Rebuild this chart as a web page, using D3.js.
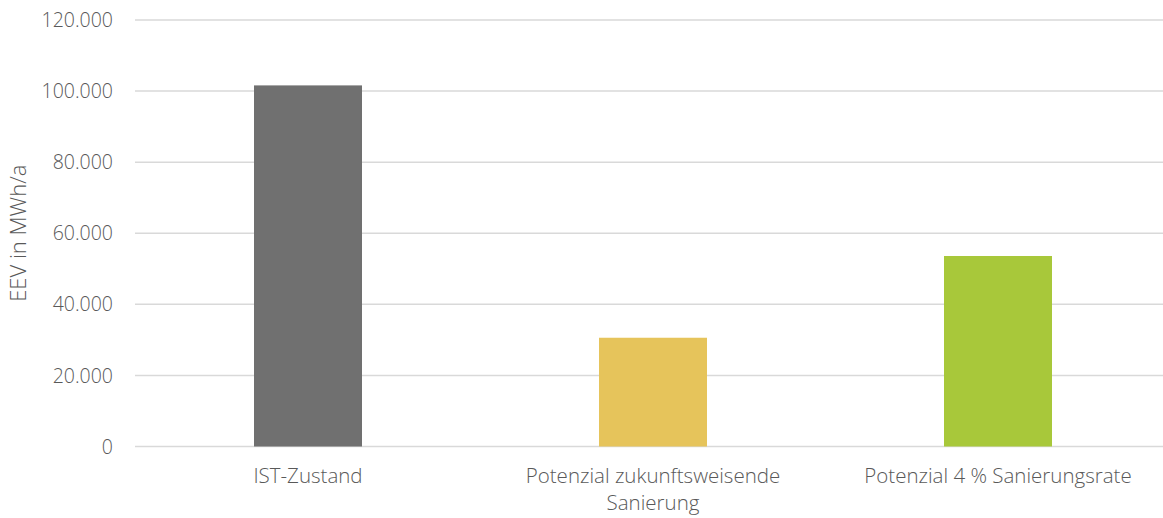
<!DOCTYPE html>
<html>
<head>
<meta charset="utf-8">
<script src="https://cdn.jsdelivr.net/npm/d3@7"></script>
<style>
  html, body { margin: 0; padding: 0; background: #fff; }
  svg text { font-family: "Open Sans", "Noto Sans", sans-serif; fill: #595959; font-weight: 300; }
</style>
</head>
<body>
<svg id="chart" width="1163" height="518"></svg>
<script>
// Final energy demand (EEV) per scenario
const categories = ["IST-Zustand", "Potenzial zukunftsweisende Sanierung", "Potenzial 4 % Sanierungsrate"];
const categoryLines = [["IST-Zustand"], ["Potenzial zukunftsweisende", "Sanierung"], ["Potenzial 4 % Sanierungsrate"]];
const values = [101600, 30600, 53600];
const barColors = ["#707070", "#E6C45B", "#A8C83A"];
const yTicks = [0, 20000, 40000, 60000, 80000, 100000, 120000];
const yTitle = "EEV in MWh/a";

const svg = d3.select("#chart");
const de = d3.formatLocale({ decimal: ",", thousands: ".", grouping: [3], currency: ["", " €"] });
const fmt = de.format(",.0f");

const x = d3.scaleBand()
  .domain(categories)
  .range([135.5, 1170.5])
  .paddingInner(0.687)
  .paddingOuter(0.3435);

const y = d3.scaleLinear()
  .domain([0, 120000])
  .range([446.5, 20]);

// horizontal gridlines
svg.append("g")
  .selectAll("line")
  .data(yTicks)
  .join("line")
  .attr("x1", 135)
  .attr("x2", 1163)
  .attr("y1", d => y(d))
  .attr("y2", d => y(d))
  .attr("stroke", "#d9d9d9")
  .attr("stroke-width", 1.5);

// y tick labels
const yAxis = d3.axisLeft(y).tickValues(yTicks).tickFormat(fmt).tickSize(0).tickPadding(0);
const gy = svg.append("g").attr("transform", "translate(113,0)").call(yAxis);
gy.select(".domain").remove();
gy.selectAll("text")
  .attr("font-size", 19.5)
  .attr("dy", "0.34em")
  .style("font-family", "'Open Sans', 'Noto Sans', sans-serif")
  .attr("fill", "#595959");

// bars
svg.append("g")
  .selectAll("rect")
  .data(values)
  .join("rect")
  .attr("x", (d, i) => x(categories[i]))
  .attr("width", x.bandwidth())
  .attr("y", d => y(d))
  .attr("height", d => y(0) - y(d))
  .attr("fill", (d, i) => barColors[i]);

// category labels
const labels = svg.append("g")
  .selectAll("text")
  .data(categories)
  .join("text")
  .attr("x", d => x(d) + x.bandwidth() / 2)
  .attr("y", 483)
  .attr("text-anchor", "middle")
  .attr("font-size", 20.5);
labels.each(function(d, i) {
  d3.select(this).selectAll("tspan")
    .data(categoryLines[i])
    .join("tspan")
    .attr("x", x(d) + x.bandwidth() / 2)
    .attr("dy", (t, j) => j === 0 ? 0 : 27)
    .text(t => t);
});

// y axis title
svg.append("text")
  .attr("transform", "translate(26," + ((y(0) + y(120000)) / 2) + ") rotate(-90)")
  .attr("text-anchor", "middle")
  .attr("font-size", 22)
  .text(yTitle);
</script>
</body>
</html>
